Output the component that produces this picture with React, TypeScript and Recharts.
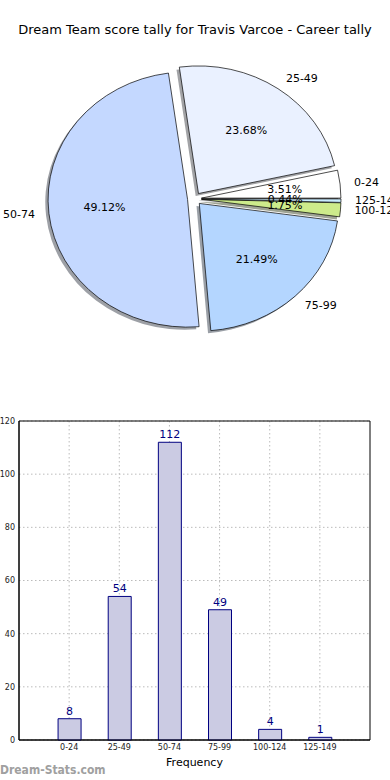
import React from 'react'
import { PieChart, Pie, Cell, BarChart, Bar, XAxis, YAxis, CartesianGrid, LabelList, ReferenceArea } from 'recharts'

const categories = ['0-24', '25-49', '50-74', '75-99', '100-124', '125-149']
const frequencies = [8, 54, 112, 49, 4, 1]
const sliceColors = ['#ffffff', '#eaf1ff', '#c4d8ff', '#b4d6ff', '#cdeb8b', '#c9ecff']
const yTicks = [0, 20, 40, 60, 80, 100, 120]
const xTicks = [0, 1, 2, 3, 4, 5]

const pieData = categories.map((name, i) => ({ name, value: frequencies[i] }))
const barData = categories.map((name, i) => ({ idx: i, name, value: frequencies[i] }))

// matplotlib-style pie: stretched a bit (axis not equal), every wedge exploded
const RY_SCALE = 0.915
const EXPLODE = 0.05
const RAD = Math.PI / 180
const FONT = '"DejaVu Sans", sans-serif'

function darken(hex: string) {
    const n = parseInt(hex.slice(1), 16)
    const r = Math.round(((n >> 16) & 255) * 0.3)
    const g = Math.round(((n >> 8) & 255) * 0.3)
    const b = Math.round((n & 255) * 0.3)
    return `rgb(${r},${g},${b})`
}

function wedgePath(cx: number, cy: number, rx: number, ry: number, a1: number, a2: number) {
    const x1 = cx + rx * Math.cos(a1 * RAD)
    const y1 = cy - ry * Math.sin(a1 * RAD)
    const x2 = cx + rx * Math.cos(a2 * RAD)
    const y2 = cy - ry * Math.sin(a2 * RAD)
    const large = a2 - a1 > 180 ? 1 : 0
    return `M${cx},${cy} L${x1},${y1} A${rx},${ry} 0 ${large} 0 ${x2},${y2} Z`
}

const makeWedge = (shadow: boolean) => (props: any) => {
    const { cx, cy, outerRadius, startAngle, endAngle, fill } = props
    const a1 = Math.min(startAngle, endAngle)
    const a2 = Math.max(startAngle, endAngle)
    const mid = (a1 + a2) / 2
    const rx = outerRadius
    const ry = outerRadius * RY_SCALE
    let ox = cx + EXPLODE * rx * Math.cos(mid * RAD)
    let oy = cy - EXPLODE * ry * Math.sin(mid * RAD)
    if (shadow) {
        ox -= 0.02 * rx
        oy += 0.02 * ry
    }
    return (
        <path
            d={wedgePath(ox, oy, rx, ry, a1, a2)}
            fill={shadow ? darken(fill) : fill}
            fillOpacity={shadow ? 0.5 : 1}
            stroke={shadow ? 'none' : '#000'}
            strokeWidth={0.7}
        />
    )
}

const renderPieLabel = (p: any) => {
    const { cx, cy, midAngle, outerRadius, percent, name } = p
    const rx = outerRadius
    const ry = outerRadius * RY_SCALE
    const c = Math.cos(midAngle * RAD)
    const s = Math.sin(midAngle * RAD)
    const ox = cx + EXPLODE * rx * c
    const oy = cy - EXPLODE * ry * s
    return (
        <g>
            <text x={ox + 0.6 * rx * c} y={oy - 0.6 * ry * s} textAnchor="middle" dominantBaseline="central"
                fontSize={11} fill="#000" fontFamily={FONT}>
                {(percent * 100).toFixed(2)}%
            </text>
            <text x={ox + 1.1 * rx * c} y={oy - 1.1 * ry * s} textAnchor={c >= 0 ? 'start' : 'end'}
                dominantBaseline="central" fontSize={11} fill="#000" fontFamily={FONT}>
                {name}
            </text>
        </g>
    )
}

export default function App() {
    return (
        <div style={{ position: 'absolute', left: 0, top: 0, width: 390, height: 780, background: '#fff', fontFamily: FONT, overflow: 'hidden' }}>
            <div style={{ position: 'absolute', top: 22, left: 0, width: 390, textAlign: 'center', fontSize: 13, lineHeight: '16px', color: '#000' }}>
                Dream Team score tally for Travis Varcoe - Career tally
            </div>

            <div style={{ position: 'absolute', top: 0, left: 0 }}>
                <PieChart width={390} height={400} margin={{ top: 0, right: 0, bottom: 0, left: 0 }}>
                    <Pie data={pieData} dataKey="value" nameKey="name" cx={194.5} cy={198.8} outerRadius={139.5}
                        startAngle={0} endAngle={360} isAnimationActive={false} shape={makeWedge(true)} stroke="none">
                        {pieData.map((d, i) => <Cell key={d.name} fill={sliceColors[i]} />)}
                    </Pie>
                    <Pie data={pieData} dataKey="value" nameKey="name" cx={194.5} cy={198.8} outerRadius={139.5}
                        startAngle={0} endAngle={360} isAnimationActive={false} shape={makeWedge(false)}
                        label={renderPieLabel} labelLine={false}>
                        {pieData.map((d, i) => <Cell key={d.name} fill={sliceColors[i]} />)}
                    </Pie>
                </PieChart>
            </div>

            <div style={{ position: 'absolute', top: 400, left: 0 }}>
                <BarChart width={390} height={380} data={barData} margin={{ top: 21, right: 20, left: 0, bottom: 0 }}>
                    <XAxis dataKey="idx" type="number" domain={[-1, 6]} ticks={xTicks} interval={0}
                        tickFormatter={(i: number) => categories[i]} height={40}
                        tick={{ fontSize: 8, fill: '#222', fontFamily: FONT }} tickLine={false} tickSize={2} tickMargin={2}
                        axisLine={{ stroke: '#000' }}
                        label={{ value: 'Frequency', position: 'insideBottom', offset: 14, fontSize: 11, fill: '#000', fontFamily: FONT }} />
                    <YAxis domain={[0, 120]} ticks={yTicks} interval={0} width={19}
                        tick={{ fontSize: 8, fill: '#222', fontFamily: FONT }} tickLine={false} tickSize={2} tickMargin={2}
                        axisLine={{ stroke: '#000' }} />
                    <Bar dataKey="value" fill="#cbcbe3" stroke="#000080" strokeWidth={1} barSize={23} isAnimationActive={false}>
                        <LabelList dataKey="value" position="top" offset={4} fill="#000080" fontSize={11} fontFamily={FONT} />
                    </Bar>
                    <CartesianGrid stroke="#bbb" strokeDasharray="1.5 2.5" verticalValues={xTicks} horizontalValues={yTicks} />
                    <ReferenceArea x1={-1} x2={6} y1={0} y2={120} fill="none" stroke="#000" strokeWidth={1} ifOverflow="visible" />
                </BarChart>
            </div>

            <div style={{ position: 'absolute', top: 762, left: 0, fontSize: 12, fontWeight: 'bold', color: '#a0a0a0',
                fontFamily: '"DejaVu Sans Condensed", "DejaVu Sans", sans-serif', lineHeight: '16px' }}>
                Dream-Stats.com
            </div>
        </div>
    )
}
